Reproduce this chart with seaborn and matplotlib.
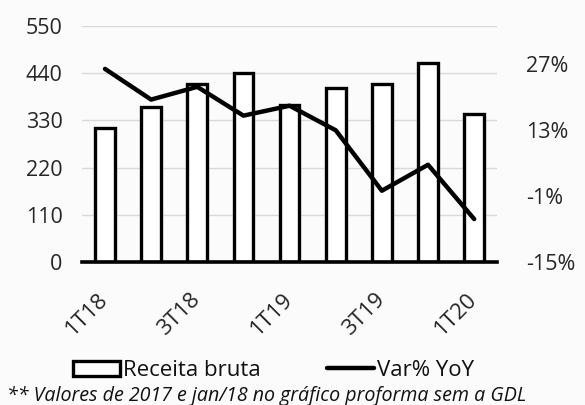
import matplotlib
matplotlib.use('Agg')
import matplotlib.pyplot as plt
import matplotlib.ticker as mticker
from matplotlib.patches import Patch
from matplotlib.lines import Line2D
import numpy as np
import pandas as pd
import seaborn as sns

# data
quarters = ['1T18', '2T18', '3T18', '4T18', '1T19', '2T19', '3T19', '4T19', '1T20']
receita  = [312, 360, 414, 440, 366, 406, 415, 463, 344]
var_yoy  = [0.259, 0.194, 0.221, 0.160, 0.181, 0.129, 0.001, 0.056, -0.059]
tick_show = ['1T18', '3T18', '1T19', '3T19', '1T20']

BG = '#fbfbfb'
sns.set_theme(style='white')
plt.rcParams['font.family'] = ['Open Sans', 'DejaVu Sans']
plt.rcParams['text.color'] = '#111111'

df = pd.DataFrame({'Trimestre': quarters, 'Receita': receita, 'Var': var_yoy})

fig = plt.figure(figsize=(5.85, 4.05), dpi=100, facecolor=BG)
ax = fig.add_axes([0.140, 0.353, 0.710, 0.583])
ax.set_facecolor(BG)

sns.barplot(data=df, x='Trimestre', y='Receita', ax=ax, color='white',
            edgecolor='black', linewidth=2.4, width=0.43, zorder=3)
ax.set_ylim(0, 550)
ax.set_yticks(np.arange(0, 551, 110))
ax.set_xlim(-0.5, len(quarters) - 0.5)
ax.yaxis.grid(True, color='#d9d9d9', lw=1.0, zorder=0)
ax.set_axisbelow(True)
for s in ['top', 'right', 'left']:
    ax.spines[s].set_visible(False)
ax.spines['bottom'].set_color('black')
ax.spines['bottom'].set_linewidth(2.6)
ax.spines['bottom'].set_zorder(5)
ax.set_xlabel(''); ax.set_ylabel('')
ax.tick_params(axis='y', length=0, labelsize=15.5, pad=14)
pos = [quarters.index(q) for q in tick_show]
ax.set_xticks(pos)
ax.set_xticklabels(tick_show, rotation=45, ha='right', va='center',
                   rotation_mode='anchor')
ax.tick_params(axis='x', length=0, labelsize=16, pad=25)

ax2 = ax.twinx()
sns.lineplot(x=np.arange(len(quarters)), y=var_yoy, ax=ax2, color='black', lw=3.2,
             solid_capstyle='round', zorder=4)
ax2.set_ylim(-0.15, 0.35)
ax2.set_yticks(np.arange(-0.15, 0.28, 0.14))
ax2.yaxis.set_major_formatter(mticker.FuncFormatter(lambda v, p: f'{round(v * 100):.0f}%'))
ax2.tick_params(axis='y', length=0, labelsize=15.5, pad=21)
for s in ['top', 'right', 'left', 'bottom']:
    ax2.spines[s].set_visible(False)
ax2.grid(False)
ax2.set_ylabel('')

handles = [Patch(facecolor='white', edgecolor='black', linewidth=2.4),
           Line2D([0], [0], color='black', lw=3.2)]
fig.legend(handles, ['Receita bruta', 'Var% YoY'], loc='center', ncol=2,
           bbox_to_anchor=(0.468, 0.085), frameon=False, fontsize=16,
           handlelength=2.1, handletextpad=0.15, columnspacing=3.0)
fig.text(0.012, 0.022, '** Valores de 2017 e jan/18 no gráfico proforma sem a GDL',
         fontsize=14.1, style='italic', ha='left', va='center')

fig.savefig('out.png', dpi=100, facecolor=BG)
